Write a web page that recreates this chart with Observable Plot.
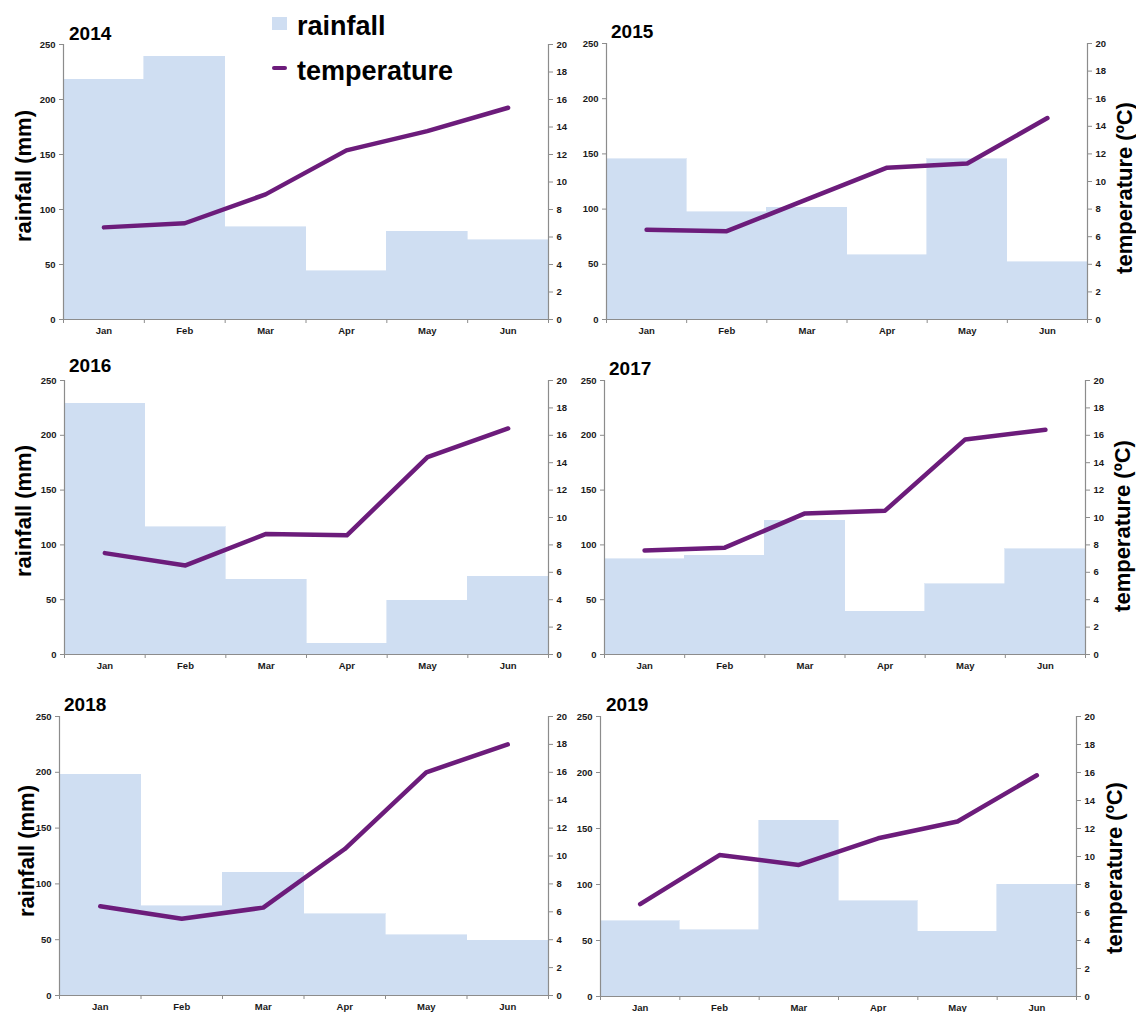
<!DOCTYPE html>
<html><head><meta charset="utf-8">
<script src="https://cdn.jsdelivr.net/npm/d3@7"></script>
<script src="https://cdn.jsdelivr.net/npm/@observablehq/plot@0.6"></script>
<style>
body{margin:0;background:#fff;}
#root{position:relative;width:1136px;height:1012px;overflow:hidden;font-family:"Liberation Sans",Arial,sans-serif;}
.panel{position:absolute;}
.title{position:absolute;font-weight:bold;font-size:19px;line-height:1;color:#000;}
.vlabel{position:absolute;font-weight:bold;font-size:22px;line-height:1;white-space:nowrap;transform:translate(-50%,-50%) rotate(-90deg);color:#000;}
.legend{position:absolute;left:272px;top:0;z-index:5;}
.lg-text{position:absolute;font-weight:bold;font-size:27px;line-height:1;white-space:nowrap;color:#000;}
.lg-sw{position:absolute;}
</style></head><body><div id="root"></div>
<script>
// ---- data ----
const months = ["Jan", "Feb", "Mar", "Apr", "May", "Jun"];
const years = [2014, 2015, 2016, 2017, 2018, 2019];

const rain2014 = [218, 239, 84, 44, 80, 72];
const temp2014 = [6.7, 7.0, 9.1, 12.3, 13.7, 15.4];
const rain2015 = [145, 97, 101, 58, 145, 52];
const temp2015 = [6.5, 6.4, 8.7, 11.0, 11.3, 14.6];
const rain2016 = [229, 116, 68, 10, 49, 71];
const temp2016 = [7.4, 6.5, 8.8, 8.7, 14.4, 16.5];
const rain2017 = [87, 90, 122, 39, 64, 96];
const temp2017 = [7.6, 7.8, 10.3, 10.5, 15.7, 16.4];
const rain2018 = [198, 80, 110, 73, 54, 49];
const temp2018 = [6.4, 5.5, 6.3, 10.5, 16.0, 18.0];
const rain2019 = [67, 59, 157, 85, 58, 100];
const temp2019 = [6.6, 10.1, 9.4, 11.3, 12.5, 15.8];

const rainTicks = [0, 50, 100, 150, 200, 250];
const tempTicks = [0, 2, 4, 6, 8, 10, 12, 14, 16, 18, 20];

const rainLabel = "rainfall (mm)";
const tempLabel = "temperature (ºC)";
const legendLabels = ["rainfall", "temperature"];

const rainSeries = [rain2014, rain2015, rain2016, rain2017, rain2018, rain2019];
const tempSeries = [temp2014, temp2015, temp2016, temp2017, temp2018, temp2019];

// ---- layout (plot-area boxes) ----
const boxes = [
  {L: 63, T: 44, R: 548, B: 319, side: "left",  tx: 69,  tb: 40,  lx: 24,   ly: 176},
  {L: 606, T: 43, R: 1087, B: 319, side: "right", tx: 611, tb: 38, lx: 1125, ly: 188},
  {L: 64, T: 380, R: 548, B: 654, side: "left",  tx: 69,  tb: 372, lx: 24,   ly: 511},
  {L: 604, T: 380, R: 1085, B: 654, side: "right", tx: 609, tb: 375, lx: 1123, ly: 526},
  {L: 59, T: 716, R: 548, B: 995, side: "left",  tx: 64,  tb: 711, lx: 27,   ly: 851},
  {L: 600, T: 716, R: 1076, B: 996, side: "right", tx: 606, tb: 711, lx: 1115, ly: 868}
];

const barColor = "#cfdef2";
const lineColor = "#6c1c7b";
const axisColor = "#8c8c8c";
const textColor = "#1a1a1a";
const rainMax = 250, tempMax = 20, ratio = rainMax / tempMax;

const root = document.getElementById("root");

function panel(idx) {
  const box = boxes[idx];
  const data = months.map((m, i) => ({i, month: m, rain: rainSeries[idx][i], temp: tempSeries[idx][i]}));
  const ml = 45, mr = 32, mt = 8, mb = 26;
  const chart = Plot.plot({
    width: box.R - box.L + ml + mr,
    height: box.B - box.T + mt + mb,
    marginLeft: ml, marginRight: mr, marginTop: mt, marginBottom: mb,
    x: {type: "linear", domain: [0, months.length]},
    y: {domain: [0, rainMax]},
    style: {fontFamily: "'Liberation Sans', Arial, sans-serif", fontSize: "9.5px", fontWeight: "bold", overflow: "visible", background: "transparent", color: textColor},
    marks: [
      Plot.rectY(data, {x1: "i", x2: d => d.i + 1, y: "rain", fill: barColor, stroke: barColor, strokeWidth: 0.6, shapeRendering: "crispEdges"}),
      Plot.ruleY([0], {stroke: axisColor, strokeWidth: 1.2}),
      Plot.ruleX([0, months.length], {stroke: axisColor, strokeWidth: 1.2}),
      Plot.axisY({anchor: "left", ticks: rainTicks, tickSize: 4, tickPadding: 4, stroke: axisColor, fill: textColor, label: null}),
      Plot.axisY({anchor: "right", ticks: tempTicks.map(t => t * ratio), tickFormat: d => String(Math.round(d / ratio)), tickSize: 4, tickPadding: 4, stroke: axisColor, fill: textColor, label: null}),
      Plot.axisX({ticks: d3.range(0, months.length + 1), tickSize: 4, tickFormat: () => "", stroke: axisColor, label: null}),
      Plot.axisX({ticks: months.map((m, i) => i + 0.5), tickSize: 0, tickPadding: 8, tickFormat: d => months[Math.floor(d)], fill: textColor, label: null}),
      Plot.line(data, {x: d => d.i + 0.5, y: d => d.temp * ratio, stroke: lineColor, strokeWidth: 4.5, strokeLinecap: "round", strokeLinejoin: "round"})
    ]
  });
  const wrap = document.createElement("div");
  wrap.className = "panel";
  wrap.style.left = (box.L - ml) + "px";
  wrap.style.top = (box.T - mt) + "px";
  wrap.appendChild(chart);
  root.appendChild(wrap);

  const t = document.createElement("div");
  t.className = "title";
  t.textContent = String(years[idx]);
  t.style.left = box.tx + "px";
  t.style.top = (box.tb - 16) + "px";
  root.appendChild(t);

  const v = document.createElement("div");
  v.className = "vlabel";
  v.textContent = box.side === "left" ? rainLabel : tempLabel;
  v.style.left = box.lx + "px";
  v.style.top = box.ly + "px";
  root.appendChild(v);
}

years.forEach((y, i) => panel(i));

// legend
const lg = document.createElement("div");
lg.className = "legend";
lg.innerHTML = `
  <div class="lg-sw" style="left:0px;top:17px;width:15px;height:13px;background:${barColor}"></div>
  <div class="lg-text" style="left:25px;top:13px">${legendLabels[0]}</div>
  <div class="lg-sw" style="left:0px;top:66px;width:15px;height:4px;background:${lineColor};border-radius:2px"></div>
  <div class="lg-text" style="left:25px;top:58px">${legendLabels[1]}</div>`;
root.appendChild(lg);
</script>
</body></html>
